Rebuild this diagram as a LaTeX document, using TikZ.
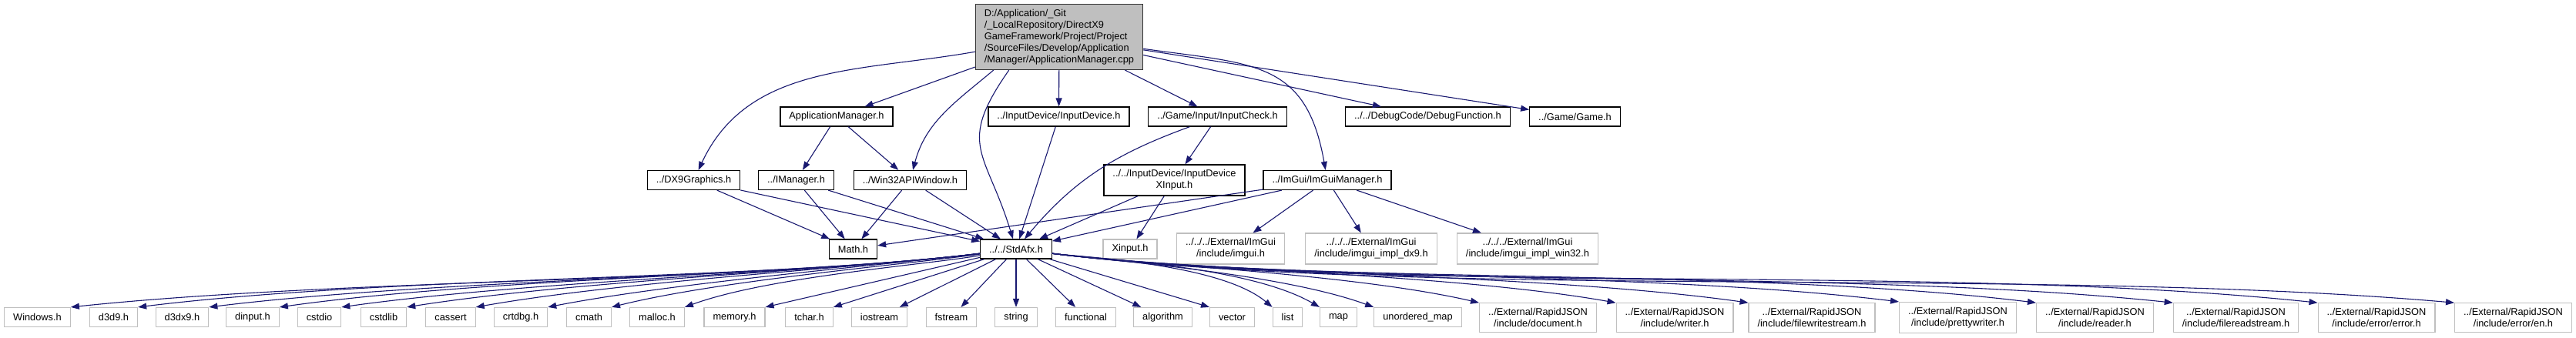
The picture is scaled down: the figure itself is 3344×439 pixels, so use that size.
\documentclass[tikz,border=0pt]{standalone}
\usepackage{fontspec}
\setmainfont{Liberation Sans}
\usepackage{tikz}
\usetikzlibrary{arrows.meta}
\usepackage{xcolor}
\definecolor{edgeblue}{HTML}{191970}
\definecolor{sysgray}{HTML}{BFBFBF}
\definecolor{rootfill}{HTML}{BFBFBF}

\begin{document}
\begin{tikzpicture}[
    x=1pt, y=1pt,
    box/.style={
        rectangle,
        draw=black,
        line width=1.2pt,
        fill=white,
        align=center,
        inner xsep=11.5pt,
        inner ysep=6.5pt,
        minimum height=25pt,
        font=\fontsize{12.8}{15}\selectfont
    },
    sysbox/.style={box, draw=sysgray},
    rootbox/.style={box, draw=black!80, fill=rootfill, align=left},
    arrow/.style={
        -{Triangle[length=11pt, width=8pt]},
        line width=1.1pt,
        color=edgeblue
    }
]

\useasboundingbox (0,0) rectangle (3344,-439);

\node[rootbox] (root) at (1375,-48) {D:/Application/\_Git\\/\_LocalRepository/DirectX9\\GameFramework/Project/Project\\/SourceFiles/Develop/Application\\/Manager/ApplicationManager.cpp};

\node[box] (appmgr)  at (1086,-151.5)   {ApplicationManager.h};
\node[box] (indev)   at (1374.5,-151.5) {../InputDevice/InputDevice.h};
\node[box] (incheck) at (1580.5,-151.5) {../Game/Input/InputCheck.h};
\node[box] (debugfn) at (1853.5,-151.5) {../../DebugCode/DebugFunction.h};
\node[box] (game)    at (2044.5,-151.5) {../Game/Game.h};

\node[box] (dxgfx)     at (900.5,-234)  {../DX9Graphics.h};
\node[box] (imgr)      at (1033.5,-234) {../IManager.h};
\node[box] (win32)     at (1181.5,-234) {../Win32APIWindow.h};
\node[box] (xinputdev) at (1524.5,-234) {../../InputDevice/InputDevice\\XInput.h};
\node[box] (imguimgr)  at (1723,-234)   {../ImGui/ImGuiManager.h};

\node[box]    (math)       at (1107.5,-323.5) {Math.h};
\node[box]    (stdafx)     at (1319,-323.5)   {../../StdAfx.h};
\node[sysbox] (xinput)     at (1467,-323.5)   {Xinput.h};
\node[sysbox] (imgui)      at (1597.5,-323)   {../../../External/ImGui\\/include/imgui.h};
\node[sysbox] (imguidx9)   at (1780,-323)     {../../../External/ImGui\\/include/imgui\_impl\_dx9.h};
\node[sysbox] (imguiwin32) at (1983,-323)     {../../../External/ImGui\\/include/imgui\_impl\_win32.h};

\node[sysbox] (windows)    at (48.5,-412)   {Windows.h};
\node[sysbox] (d3d9)       at (147.5,-412)  {d3d9.h};
\node[sysbox] (d3dx9)      at (236.5,-412)  {d3dx9.h};
\node[sysbox] (dinput)     at (328,-412)    {dinput.h};
\node[sysbox] (cstdio)     at (414.5,-412)  {cstdio};
\node[sysbox] (cstdlib)    at (498,-412)    {cstdlib};
\node[sysbox] (cassert)    at (585,-412)    {cassert};
\node[sysbox] (crtdbg)     at (676,-412)    {crtdbg.h};
\node[sysbox] (cmath)      at (764.5,-412)  {cmath};
\node[sysbox] (malloc)     at (853,-412)    {malloc.h};
\node[sysbox] (memory)     at (953.5,-412)  {memory.h};
\node[sysbox] (tchar)      at (1050.5,-412) {tchar.h};
\node[sysbox] (iostream)   at (1141.5,-412) {iostream};
\node[sysbox] (fstream)    at (1235,-412)   {fstream};
\node[sysbox] (string)     at (1319,-412)   {string};
\node[sysbox] (functional) at (1409.5,-412) {functional};
\node[sysbox] (algorithm)  at (1509.5,-412) {algorithm};
\node[sysbox] (vector)     at (1599.5,-412) {vector};
\node[sysbox] (list)       at (1671.5,-412) {list};
\node[sysbox] (map)        at (1737.5,-412) {map};
\node[sysbox] (umap)       at (1840.5,-412) {unordered\_map};
\node[sysbox] (document)   at (1996.5,-412.5) {../External/RapidJSON\\/include/document.h};
\node[sysbox] (writer)     at (2174,-412.5)   {../External/RapidJSON\\/include/writer.h};
\node[sysbox] (fwstream)   at (2352,-412.5)   {../External/RapidJSON\\/include/filewritestream.h};
\node[sysbox] (pwriter)    at (2541.5,-412.5) {../External/RapidJSON\\/include/prettywriter.h};
\node[sysbox] (reader)     at (2719.5,-412.5) {../External/RapidJSON\\/include/reader.h};
\node[sysbox] (frstream)   at (2902.5,-412.5) {../External/RapidJSON\\/include/filereadstream.h};
\node[sysbox] (error)      at (3085,-412.5)   {../External/RapidJSON\\/include/error/error.h};
\node[sysbox] (en)         at (3262.5,-412.5) {../External/RapidJSON\\/include/error/en.h};

\draw[arrow] (root) to[out=190, in=65] (dxgfx);
\draw[arrow] (root) -- (appmgr);
\draw[arrow] ([xshift=24pt]root.south west) to[out=220, in=75] (win32);
\draw[arrow] ([xshift=44pt]root.south west) to[out=235, in=107, looseness=1.4] (stdafx);
\draw[arrow] (root) -- (indev);
\draw[arrow] (root) -- (incheck);
\draw[arrow] (root) to[out=-8, in=100, looseness=1.3] (imguimgr);
\draw[arrow] (root) -- (debugfn);
\draw[arrow] (root) -- (game);

\draw[arrow] (appmgr) -- (imgr);
\draw[arrow] (appmgr) -- (win32);
\draw[arrow] (dxgfx) -- (math);
\draw[arrow] (dxgfx) -- (stdafx);
\draw[arrow] (imgr) -- (math);
\draw[arrow] (imgr) -- (stdafx);
\draw[arrow] (win32) -- (math);
\draw[arrow] (win32) -- (stdafx);
\draw[arrow] (indev) -- (stdafx);
\draw[arrow] (incheck) to[out=200, in=50] (stdafx);
\draw[arrow] (incheck) -- (xinputdev);
\draw[arrow] (xinputdev) -- (stdafx);
\draw[arrow] (xinputdev) -- (xinput);
\draw[arrow] (imguimgr) -- (math);
\draw[arrow] (imguimgr) -- (stdafx);
\draw[arrow] (imguimgr) -- (imgui);
\draw[arrow] (imguimgr) -- (imguidx9);
\draw[arrow] (imguimgr) -- (imguiwin32);

\draw[arrow] (stdafx) .. controls +(187:355) and +(6:355) .. (windows.north east);
\draw[arrow] (stdafx) .. controls +(187:330) and +(7:330) .. (d3d9.north east);
\draw[arrow] (stdafx) .. controls +(187:300) and +(7:300) .. (d3dx9.north east);
\draw[arrow] (stdafx) .. controls +(187:275) and +(8:275) .. (dinput.north east);
\draw[arrow] (stdafx) .. controls +(187:250) and +(8:250) .. (cstdio.north east);
\draw[arrow] (stdafx) .. controls +(187:225) and +(9:225) .. (cstdlib.north east);
\draw[arrow] (stdafx) .. controls +(187:200) and +(10:200) .. (cassert.north east);
\draw[arrow] (stdafx) .. controls +(187:170) and +(11:170) .. (crtdbg.north east);
\draw[arrow] (stdafx) .. controls +(188:145) and +(14:145) .. (cmath.north east);
\draw[arrow] (stdafx) .. controls +(190:117) and +(20:117) .. (malloc.north east);
\draw[arrow] (stdafx) -- (memory.north east);
\draw[arrow] (stdafx) -- (tchar.north east);
\draw[arrow] (stdafx) -- (iostream);
\draw[arrow] (stdafx) -- (fstream);
\draw[arrow] (stdafx) -- (string);
\draw[arrow] (stdafx) -- (functional);
\draw[arrow] (stdafx) -- (algorithm);
\draw[arrow] (stdafx) -- (vector.north west);
\draw[arrow] (stdafx) .. controls +(-7:88) and +(140:88) .. (list.north west);
\draw[arrow] (stdafx) .. controls +(-7:107) and +(150:107) .. (map.north west);
\draw[arrow] (stdafx) .. controls +(-7:128) and +(160:128) .. (umap.north west);
\draw[arrow] (stdafx) .. controls +(-7:167) and +(167:167) .. (document.north west);
\draw[arrow] (stdafx) .. controls +(-7:220) and +(170:220) .. (writer.north west);
\draw[arrow] (stdafx) .. controls +(-7:273) and +(172:273) .. (fwstream.north west);
\draw[arrow] (stdafx) .. controls +(-7:330) and +(173:330) .. (pwriter.north west);
\draw[arrow] (stdafx) .. controls +(-7:384) and +(173:384) .. (reader.north west);
\draw[arrow] (stdafx) .. controls +(-7:437) and +(174:437) .. (frstream.north west);
\draw[arrow] (stdafx) .. controls +(-7:493) and +(174:493) .. (error.north west);
\draw[arrow] (stdafx) .. controls +(-7:546) and +(175:546) .. (en.north west);

\end{tikzpicture}
\end{document}
